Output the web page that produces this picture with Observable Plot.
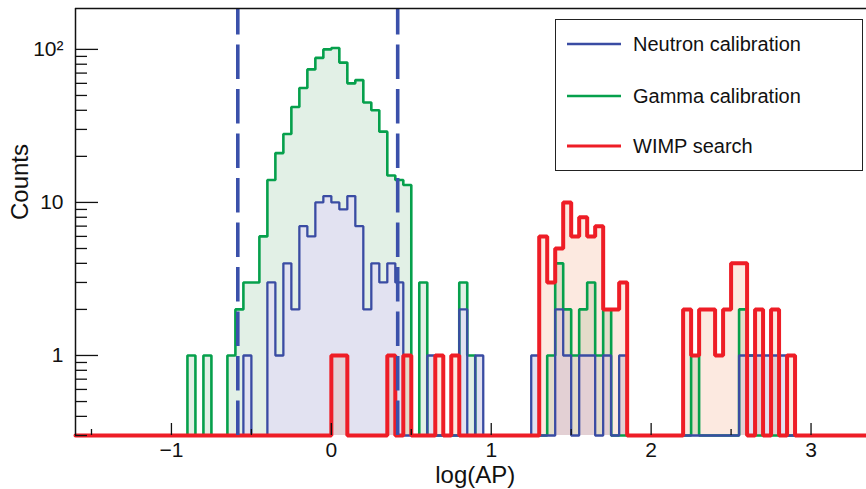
<!DOCTYPE html>
<html>
<head>
<meta charset="utf-8">
<script src="https://cdn.jsdelivr.net/npm/d3@7"></script>
<script src="https://cdn.jsdelivr.net/npm/@observablehq/plot@0.6"></script>
<style>
  html, body { margin: 0; padding: 0; background: #fff; overflow: hidden; }
  #wrap { position: relative; width: 866px; height: 489px; overflow: hidden; font-family: "Liberation Sans", Arial, Helvetica, sans-serif; }
  #wrap > svg { max-width: none !important; width: 875px; height: 489px; display: block; }
  #legend { position: absolute; left: 555px; top: 19px; width: 306px; height: 150px; border: 1.5px solid #222; background: #fff; }
  .row { position: absolute; left: 11px; height: 24px; display: flex; align-items: center; }
  .row span { margin-left: 12px; font-size: 20px; color: #111; white-space: nowrap; }
</style>
</head>
<body>
<div id="wrap"></div>
<script>
// ---- histogram binning (log(AP)), 100 bins of 0.05 from -1.6 to 3.4 ----
const xStart = -1.6;
const binWidth = 0.05;

// ---- counts per bin ----
const neutronCounts = [
  0,0,0,0,0,0,0,0,0,0,
  0,0,0,0,0,0,0,0,0,0,
  0,1,0,0,3,1,4,2,7,6,
  10,11,10,9,11,7,2,4,3,4,
  3,0,0,0,1,0,0,0,2,0,
  1,0,0,0,0,0,0,1,0,0,
  2,1,0,1,1,0,1,0,1,0,
  0,0,0,0,0,0,0,0,0,0,
  0,0,0,1,1,1,1,1,1,0,
  0,0,0,0,0,0,0,0,0,0
];
const gammaCounts = [
  0,0,0,0,0,0,0,0,0,0,
  0,0,0,0,1,0,1,0,0,1,
  2,3,3,6,14,21,28,42,56,74,
  88,100,102,82,60,63,45,40,29,15,
  14,13,0,3,0,0,0,0,3,1,
  0,0,0,0,0,0,0,0,0,1,
  4,2,1,2,3,1,2,0,0,0,
  0,0,0,0,0,0,0,1,0,0,
  0,0,0,2,1,0,0,0,0,0,
  0,0,0,0,0,0,0,0,0,0
];
const wimpCounts = [
  0,0,0,0,0,0,0,0,0,0,
  0,0,0,0,0,0,0,0,0,0,
  0,0,0,0,0,0,0,0,0,0,
  0,0,1,1,0,0,0,0,0,1,
  0,1,0,0,0,1,0,1,0,0,
  0,0,0,0,0,0,0,0,6,3,
  5,10,6,8,6,7,2,2,3,0,
  0,0,0,0,0,0,2,1,2,2,
  1,2,4,4,0,2,0,2,0,1,
  0,0,0,0,0,0,0,0,0,0
];

const seriesNames = ["Neutron calibration", "Gamma calibration", "WIMP search"];
const seriesColors = ["#3a4ca3", "#06a04c", "#ee1d26"];

// ---- acceptance cut lines ----
const cutValues = [-0.585, 0.415];

// ---- axes ----
const xDomain = [-1.6, 3.4];
const yDomain = [0.3, 185];
const xTickValues = [-1, 0, 1, 2, 3];
const xTickLabels = ["\u22121", "0", "1", "2", "3"];
const xMinorTicks = [-1.5, -0.5, 0.5, 1.5, 2.5];
const yTickValues = [1, 10, 100];
const yTickLabels = ["1", "10", "10\u00B2"];
const yMinorTicks = [0.3,0.4,0.5,0.6,0.7,0.8,0.9, 2,3,4,5,6,7,8,9, 20,30,40,50,60,70,80,90];
const xTitle = "log(AP)";
const yTitle = "Counts";

// ---- build step tables ----
const nBins = neutronCounts.length;
const edges = d3.range(nBins + 1).map(i => +(xStart + i * binWidth).toFixed(4));
function steps(counts) {
  return edges.map((x, i) => ({ x, y: Math.max(counts[Math.min(i, counts.length - 1)], yDomain[0]) }));
}
const nSteps = steps(neutronCounts);
const gSteps = steps(gammaCounts);
const wSteps = steps(wimpCounts);

const [blue, green, red] = seriesColors;

const chart = Plot.plot({
  width: 875,
  height: 489,
  marginLeft: 75,
  marginRight: 0.5,
  marginTop: 8,
  marginBottom: 54,
  style: { fontFamily: "'Liberation Sans', Arial, Helvetica, sans-serif", background: "transparent", color: "#111", overflow: "visible", maxWidth: "none" },
  x: { domain: xDomain },
  y: { type: "log", domain: yDomain },
  marks: [
    // filled areas
    Plot.areaY(gSteps, { x: "x", y1: yDomain[0], y2: "y", curve: "step-after", fill: "rgb(30,140,60)", fillOpacity: 0.13 }),
    Plot.areaY(nSteps, { x: "x", y1: yDomain[0], y2: "y", curve: "step-after", fill: "#e2e2f1" }),
    Plot.areaY(wSteps, { x: "x", y1: yDomain[0], y2: "y", curve: "step-after", fill: "rgb(235,110,50)", fillOpacity: 0.15 }),
    // outlines
    Plot.line(gSteps, { x: "x", y: "y", curve: "step-after", stroke: green, strokeWidth: 2.6, strokeLinejoin: "miter" }),
    Plot.line(nSteps, { x: "x", y: "y", curve: "step-after", stroke: blue, strokeWidth: 2.3, strokeLinejoin: "miter" }),
    Plot.line(wSteps, { x: "x", y: "y", curve: "step-after", stroke: red, strokeWidth: 4, strokeLinejoin: "miter" }),
    // cut lines
    Plot.ruleX(cutValues, { y1: yDomain[0], y2: yDomain[1], stroke: "#3a50aa", strokeWidth: 3.6, strokeDasharray: "34.5,10" }),
    // frame (left, top)
    Plot.ruleX([xDomain[0]], { stroke: "#111", strokeWidth: 1.5 }),
    Plot.ruleY([yDomain[1]], { stroke: "#111", strokeWidth: 1.5 }),
    // y axis: labels + inside ticks
    Plot.axisY({ ticks: yTickValues, tickSize: 0, tickPadding: 12, tickFormat: d => yTickLabels[yTickValues.indexOf(d)], fontSize: 21, label: null }),
    Plot.axisY({ ticks: yTickValues, tickSize: 23, dx: 23, fill: "none", stroke: "#111", strokeWidth: 1.3, label: null }),
    Plot.axisY({ ticks: yMinorTicks, tickSize: 12, dx: 12, fill: "none", stroke: "#111", strokeWidth: 1.3, label: null }),
    // x axis: labels + inside ticks
    Plot.axisX({ ticks: xTickValues, tickSize: 0, tickPadding: 7, tickFormat: d => xTickLabels[xTickValues.indexOf(d)], fontSize: 21, label: null }),
    Plot.axisX({ ticks: xTickValues, tickSize: 12, dy: -12, fill: "none", stroke: "#111", strokeWidth: 1.3, label: null }),
    Plot.axisX({ ticks: xMinorTicks, tickSize: 6, dy: -6, fill: "none", stroke: "#111", strokeWidth: 1.3, label: null }),
    // axis titles
    Plot.text([xTitle], { frameAnchor: "bottom", lineAnchor: "top", dy: 30, fontSize: 24, fill: "#111" }),
    Plot.text([yTitle], { frameAnchor: "left", rotate: -90, dx: -55, dy: -2, fontSize: 24, fill: "#111" })
  ]
});

const wrap = document.getElementById("wrap");
wrap.appendChild(chart);

// legend (inside the frame, top right)
const legend = document.createElement("div");
legend.id = "legend";
const rowCenters = [24, 76, 126];
seriesNames.forEach((name, i) => {
  const row = document.createElement("div");
  row.className = "row";
  row.style.top = (rowCenters[i] - 12) + "px";
  row.innerHTML = `<svg width="54" height="8"><line x1="0" x2="54" y1="4" y2="4" stroke="${seriesColors[i]}" stroke-width="${i === 2 ? 3.2 : 2.6}"/></svg><span>${name}</span>`;
  legend.appendChild(row);
});
wrap.appendChild(legend);
</script>
</body>
</html>
